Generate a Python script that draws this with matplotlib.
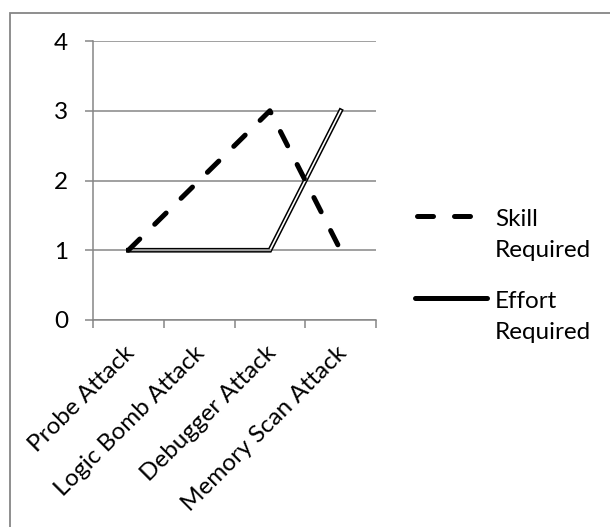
import numpy as np
import matplotlib.pyplot as plt
from matplotlib.lines import Line2D
from matplotlib.patches import Rectangle

plt.rcParams['font.family'] = ['Lato', 'DejaVu Sans']

attacks = ['Probe Attack', 'Logic Bomb Attack', 'Debugger Attack', 'Memory Scan Attack']
skill = [1, 2, 3, 1]
effort = [1, 1, 1, 3]
series_names = ['Skill\nRequired', 'Effort\nRequired']
yticks = [0, 1, 2, 3, 4]

GREY = '#868686'
W, H = 610, 527
FS = 17.5

fig = plt.figure(figsize=(W / 100, H / 100), dpi=100)
ax = fig.add_axes([93 / W, 1 - 320 / H, 283 / W, 279 / H])

x = np.arange(len(attacks))

# grid + axes
ax.set_xlim(-0.5, len(attacks) - 0.5)
ax.set_ylim(0, 4)
ax.set_yticks(yticks)
ax.set_yticklabels([str(v) for v in yticks])
ax.yaxis.grid(True, color=GREY, lw=1.1, zorder=0)
ax.set_axisbelow(True)
for s in ['top', 'right']:
    ax.spines[s].set_visible(False)
for s in ['left', 'bottom']:
    ax.spines[s].set_color(GREY)
    ax.spines[s].set_linewidth(1.1)
ax.set_xticks(np.arange(-0.5, len(attacks)))
ax.set_xticklabels([])
ax.tick_params(axis='both', which='major', direction='out', length=6,
               width=1.1, color=GREY, labelsize=FS, pad=12)

# slanted category labels, right end just under each category
for i, name in enumerate(attacks):
    ax.annotate(name, xy=(x[i], 0), xycoords=('data', 'axes fraction'),
                xytext=(-3.5, -16), textcoords='offset points',
                rotation=45, ha='right', va='top', rotation_mode='anchor',
                fontsize=FS, annotation_clip=False)

# effort: double (outlined) line
ax.plot(x, effort, color='black', lw=3.4, solid_joinstyle='miter', zorder=3)
ax.plot(x, effort, color='white', lw=1.2, solid_joinstyle='miter', zorder=4)
ax.axhline(1, xmin=0.125, xmax=0.625, color=GREY, lw=1.1, zorder=4.5)

# skill: dashed line
ax.plot(x, skill, color='black', lw=3.6, dashes=(3.2, 4.2),
        dash_capstyle='round', zorder=5)

# legend keys drawn in figure pixels
def fx(px):
    return px / W

def fy(py):
    return 1 - py / H

fig.add_artist(Line2D([fx(417), fx(487)], [fy(216), fy(216)], color='black',
                      lw=3.6, dashes=(3.2, 4.2), dash_capstyle='round'))
fig.add_artist(Line2D([fx(415), fx(487)], [fy(298), fy(298)], color='black',
                      lw=3.6, solid_capstyle='round'))
fig.text(fx(495), fy(209), series_names[0], fontsize=FS, va='top',
         linespacing=1.6)
fig.text(fx(495), fy(291), series_names[1], fontsize=FS, va='top',
         linespacing=1.6)

# chart area border
fig.add_artist(Rectangle((fx(10), fy(H + 20)), 1.2, fy(13) - fy(H + 20),
                         transform=fig.transFigure, fill=False,
                         edgecolor=GREY, lw=1.3))

fig.savefig('out.png', dpi=100)
